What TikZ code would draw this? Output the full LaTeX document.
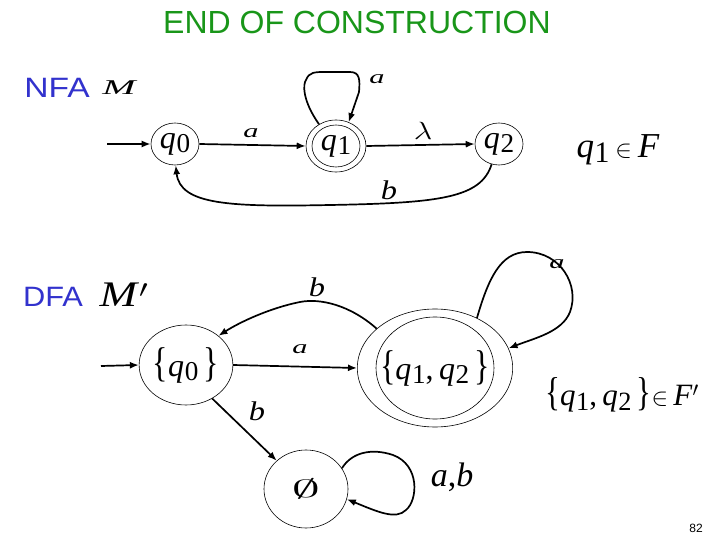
\documentclass[tikz,border=0pt]{standalone}
\usepackage{fontspec}
\usepackage{graphicx}
\setmainfont{Liberation Serif}
\newfontfamily\sansf{Liberation Sans}
\usetikzlibrary{shapes.geometric,arrows.meta}
\definecolor{titlegreen}{RGB}{25,150,25}
\definecolor{nfablue}{RGB}{50,50,205}
\newcommand\qv[1]{\textit{q}\kern0.02em\raisebox{-0.32ex}{\scalebox{0.85}{#1}}}
\newcommand\lbr{\scalebox{1}[1.3]{\{}}
\newcommand\rbr{\scalebox{1}[1.3]{\}}}
\begin{document}
\begin{tikzpicture}[x=1pt,y=-1pt,
  st/.style={draw, ellipse, line width=0.6pt, inner sep=0pt},
  arr/.style={line width=1.7pt, -{Latex[length=9pt,width=7pt]}},
  lbl/.style={inner sep=0pt},
  qf/.style={font=\fontsize{32}{32}\selectfont}]
\useasboundingbox (0,0) rectangle (720,540);
% titles
\node[lbl, text=titlegreen, font=\sansf\fontsize{32}{32}\selectfont] (title) at (357,22) {END OF CONSTRUCTION};
\node[lbl, text=nfablue, xscale=1.2, font=\sansf\fontsize{28}{28}\selectfont] (nfa) at (57,88) {NFA};
\node[lbl, xscale=1.9, font=\fontsize{21}{21}\selectfont] (m) at (120,88) {\textit{M}};
\node[lbl, text=nfablue, xscale=1.1, font=\sansf\fontsize{28}{28}\selectfont] (dfa) at (53,297) {DFA};
\node[lbl, xscale=1.25, font=\fontsize{36}{36}\selectfont] (mp) at (124,295) {\textit{M}$'$};
% NFA states
\node[st, minimum width=48, minimum height=42, qf] (q0) at (175,144) {\qv{0}};
\node[st, minimum width=60, minimum height=52, qf] (q1) at (336,146) {\qv{1}};
\draw[line width=0.6pt] (q1.center) ellipse [x radius=24, y radius=21];
\node[st, minimum width=48, minimum height=42, qf] (q2) at (499,144) {\qv{2}};
\coordinate (i0) at (107,144);
\draw[arr] (i0) -- (q0.west);
\draw[arr] (q0.east) -- (q1.west);
\draw[arr] (q1.east) -- (q2.west);
\draw[arr] (q1.128) .. controls (302,100) and (303,84) .. (306,80)
  .. controls (309,72) and (315,72) .. (325,72) -- (350,72)
  .. controls (360,72) and (360,80) .. (359,92) -- (q1.62);
\draw[arr] (q2.250) .. controls (481,198) and (440,203) .. (330,205)
  .. controls (230,207) and (180,205) .. (q0.272);
\node[lbl, xscale=1.6, font=\fontsize{19}{19}\selectfont] (la1) at (251,133) {\textit{a}};
\node[lbl, xscale=1.3, font=\fontsize{24}{24}\selectfont] (ll) at (423,131) {$\lambda$};
\node[lbl, xscale=1.6, font=\fontsize{19}{19}\selectfont] (la2) at (377,79) {\textit{a}};
\node[lbl, xscale=1.2, font=\fontsize{27}{27}\selectfont] (lb1) at (389,190) {\textit{b}};
\node[lbl, font=\fontsize{35}{35}\selectfont] (f1) at (618,150) {\qv{1}\,$\in$\,\textit{F}};
% DFA states
\node[st, minimum width=84, minimum height=80, qf] (A) at (186,365) {\lbr\qv{0}\,\rbr};
\node[st, minimum width=139, minimum height=118, qf] (B) at (435,368) {\lbr\qv{1},\,\qv{2}\,\rbr};
\draw[line width=0.6pt] (B.center) ellipse [x radius=59, y radius=51];
\node[st, minimum width=84, minimum height=78, font=\fontsize{24}{24}\selectfont] (E) at (306,489) {\scalebox{2.3}[1.0]{$\emptyset$}};
\coordinate (i1) at (101,366);
\draw[arr] (i1) -- (A.west);
\draw[arr] (A.east) -- (B.west);
\draw[arr] (B.146) .. controls (350,305) and (320,298) .. (300,302)
  .. controls (270,308) and (240,322) .. (A.42);
\draw[arr] (B.50) .. controls (488,280) and (500,252) .. (527,252)
  .. controls (560,252) and (580,285) .. (570,312)
  .. controls (562,332) and (535,338) .. (B.15);
\draw[arr] (A.-52) -- (E.136);
\draw[arr] (E.30) .. controls (352,452) and (372,448) .. (393,455)
  .. controls (420,465) and (418,500) .. (406,510)
  .. controls (396,520) and (378,512) .. (E.-14);
\node[lbl, xscale=1.6, font=\fontsize{19}{19}\selectfont] (la3) at (300,349) {\textit{a}};
\node[lbl, xscale=1.2, font=\fontsize{27}{27}\selectfont] (lb2) at (317,287) {\textit{b}};
\node[lbl, xscale=1.6, font=\fontsize{19}{19}\selectfont] (la4) at (557,264) {\textit{a}};
\node[lbl, xscale=1.2, font=\fontsize{27}{27}\selectfont] (lb3) at (257,411) {\textit{b}};
\node[lbl, font=\fontsize{34}{34}\selectfont] (lab) at (452,477) {\textit{a},\textit{b}};
\node[lbl, font=\fontsize{31}{31}\selectfont] (f2) at (622,395) {\lbr\qv{1},\,\qv{2}\,\rbr$\in$\,\textit{F}$'$};
\node[lbl, font=\sansf\fontsize{12}{12}\selectfont] (pg) at (696,528) {82};
\end{tikzpicture}
\end{document}
